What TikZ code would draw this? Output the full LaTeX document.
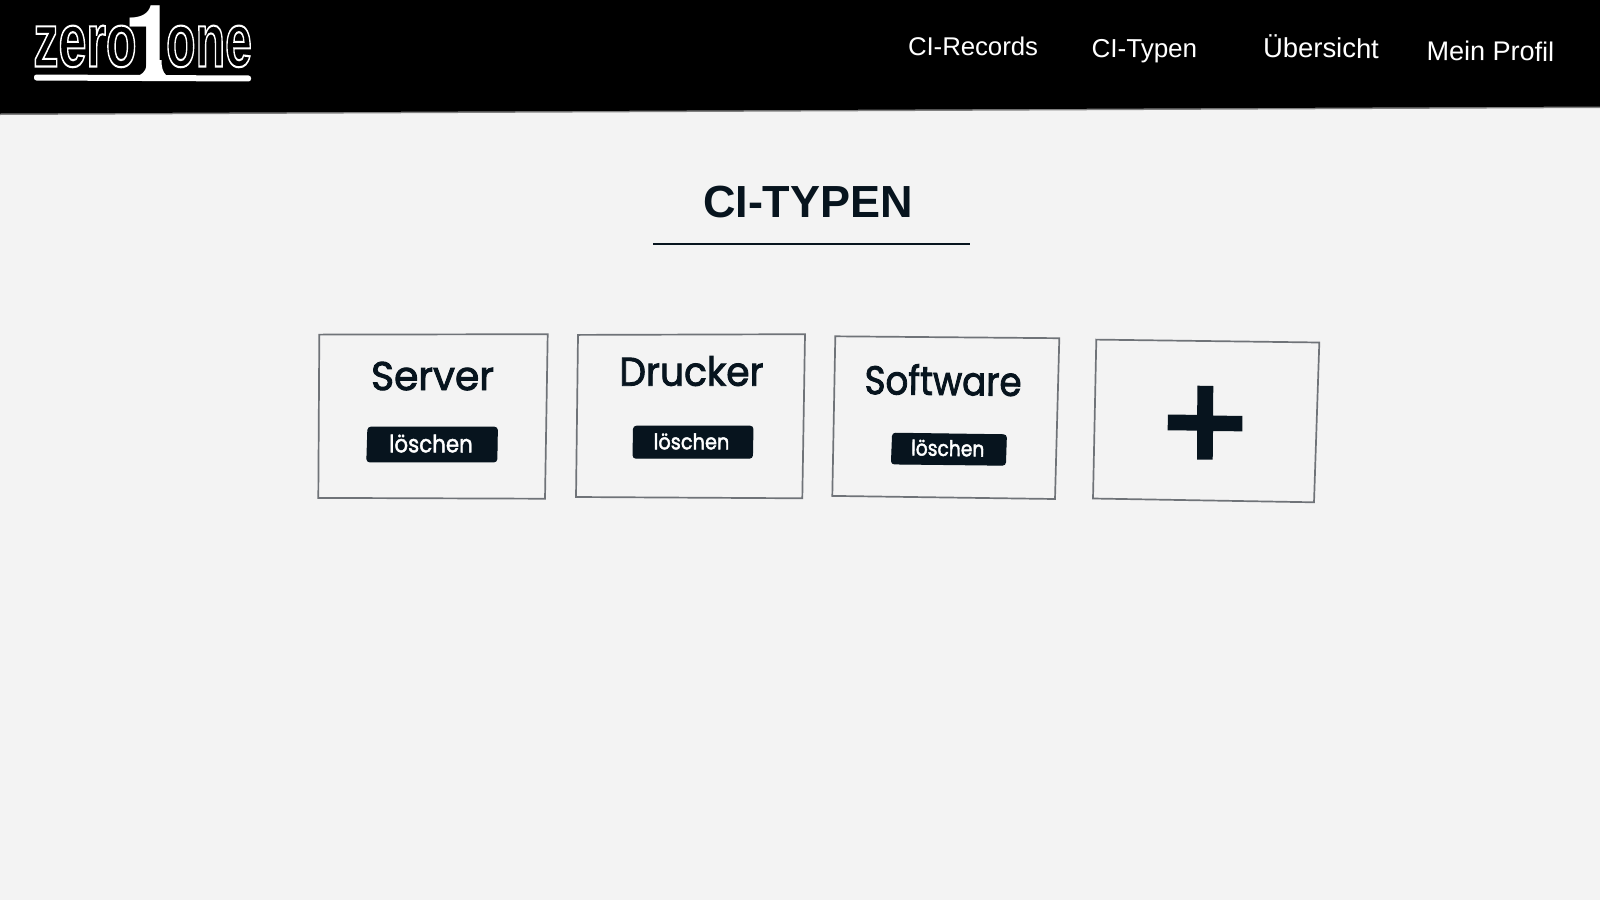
\documentclass[tikz,border=0pt]{standalone}
\usepackage{fontspec}
\setmainfont{Liberation Sans}
\newfontfamily\ui{Poppins}
\newfontfamily\logodigit{TeX Gyre Heros}
\definecolor{ink}{HTML}{07141E}
\definecolor{paper}{HTML}{F3F3F3}
\definecolor{rim}{HTML}{6F7378}
\newcommand{\inkheavy}[2]{\special{pdf:literal 2 Tr #1 w 0.027 0.078 0.118 RG}#2\special{pdf:literal 0 Tr}}
\newcommand{\whiteheavy}[2]{\special{pdf:literal 2 Tr #1 w 1 1 1 RG}#2\special{pdf:literal 0 Tr}}
\newcommand{\outlined}[1]{\special{pdf:literal 1 Tr 2.1 w 1 1 1 RG}#1\special{pdf:literal 0 Tr}}
\tikzset{
  navlabel/.style={text=white,anchor=base,inner sep=0pt},
  cardtitle/.style={text=ink,font=\ui\fontsize{40}{44}\selectfont,anchor=base,inner sep=0pt,transform shape},
  btnlabel/.style={text=white,font=\ui\fontsize{24}{26}\selectfont,anchor=base,inner sep=0pt,transform shape},
  card/.style={draw=rim,line width=1.7pt,line join=miter},
  btn/.style={fill=ink,draw=ink,line width=1pt,rounded corners=3pt},
  logoletters/.style={text=white,font=\fontsize{76}{76}\bfseries\selectfont,anchor=base,inner sep=0pt,transform shape},
}
\begin{document}
\begin{tikzpicture}[x=1pt,y=-1pt]
\useasboundingbox (0,0) rectangle (1600,900);
\fill[paper] (0,0) rectangle (1600,900);
% header
\fill[black!50] (0,0) -- (1600,0) -- (1600,108) -- (0,115) -- cycle;
\fill[black] (0,0) -- (1600,0) -- (1600,106.5) -- (0,113.5) -- cycle;
% logo
\node[logoletters,xscale=.66] (zero) at (85,66.5) {\outlined{zero}};
\node[logoletters,xscale=.635] (one) at (209,66.5) {\outlined{one}};
\node[logoletters,font=\logodigit\fontsize{97}{97}\bfseries\selectfont] (digit) at (150,74) {1};
\fill[white] (147,60) .. controls (147,68) and (145,72) .. (140,75) -- (166,75) .. controls (163,72) and (161.5,68) .. (161.5,60) -- cycle;
\fill[white,rounded corners=2.5pt] (34,74.5) -- (251,75.5) -- (251,81.5) -- (34,80.5) -- cycle;
% nav
\node[navlabel,rotate=-0.4,font=\fontsize{25.7}{28}\selectfont] (nav1) at (973,55.5) {CI-Records};
\node[navlabel,rotate=-0.4,font=\fontsize{26}{28}\selectfont] (nav2) at (1144.4,57.6) {CI-Typen};
\node[navlabel,rotate=-0.4,font=\fontsize{27.4}{30}\selectfont] (nav3) at (1321,57.8) {Übersicht};
\node[navlabel,rotate=-0.4,font=\fontsize{27}{30}\selectfont] (nav4) at (1490.3,60.7) {Mein Profil};
% title
\node[anchor=base,inner sep=0pt,text=ink,font=\fontsize{45}{50}\bfseries\selectfont] (title) at (808,217) {CI-TYPEN};
\draw[ink,line width=1.4pt] (653,244) -- (970,244);
% cards
\draw[card] (319.3,334.6) -- (547.7,334.2) -- (545,498.7) -- (318.3,497.9) -- cycle;
\draw[card] (578,334.9) -- (805,334.2) -- (802.3,498.3) -- (576,497) -- cycle;
\draw[card] (835.3,336.3) -- (1059.3,338.2) -- (1055,499) -- (832.3,495.9) -- cycle;
\draw[card] (1096.3,339.6) -- (1319.3,342.5) -- (1314,502.3) -- (1093,498.5) -- cycle;
% buttons
\filldraw[btn] (367.9,427.2) -- (497.4,427.2) -- (496.8,461.9) -- (366.8,461.9) -- cycle;
\filldraw[btn] (633.5,426.2) -- (753,426.2) -- (752.4,458.2) -- (633,458.2) -- cycle;
\filldraw[btn] (892.6,433.2) -- (1006.4,434.8) -- (1005.4,465.2) -- (891.4,463.9) -- cycle;
% labels
\node[cardtitle,xscale=.98] (server) at (432.5,390) {\inkheavy{0.9}{Server}};
\node[cardtitle,xscale=.94] (drucker) at (691.5,385.7) {\inkheavy{0.9}{Drucker}};
\node[cardtitle,xscale=.89,rotate=-0.6] (software) at (943,395) {\inkheavy{0.9}{Software}};
\node[btnlabel,xscale=.89] (del1) at (431,452.3) {\whiteheavy{0.45}{löschen}};
\node[btnlabel,font=\ui\fontsize{21.5}{24}\selectfont,xscale=.90] (del2) at (691.5,449.3) {\whiteheavy{0.45}{löschen}};
\node[btnlabel,font=\ui\fontsize{21.5}{24}\selectfont,xscale=.87,rotate=-0.8] (del3) at (947.7,456) {\whiteheavy{0.45}{löschen}};
% plus
\fill[ink] (1197.3,385.7) -- (1213.3,386) -- (1213,415.6) -- (1242.3,415.9) -- (1242.3,431.3) -- (1213,431.1) -- (1212.7,459.7) -- (1197,459.7) -- (1197.1,430.6) -- (1167.7,430.3) -- (1167.8,414.5) -- (1197.2,414.9) -- cycle;
\end{tikzpicture}
\end{document}
